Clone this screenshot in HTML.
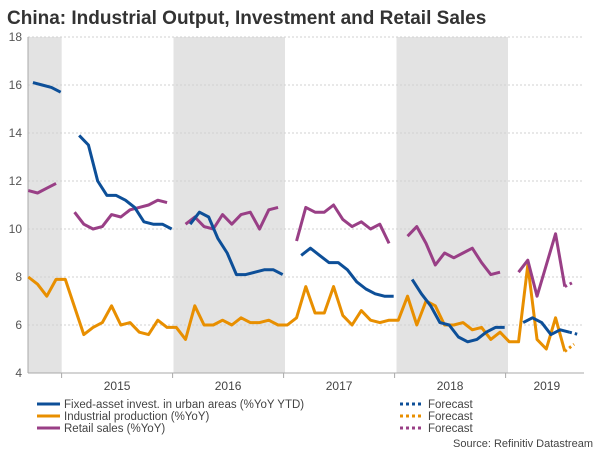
<!DOCTYPE html>
<html><head><meta charset="utf-8">
<style>
body{margin:0;background:#fff;width:600px;height:450px;overflow:hidden;font-family:"Liberation Sans",Arial,sans-serif;}
</style></head>
<body>
<svg id="chart" width="600" height="450" xmlns="http://www.w3.org/2000/svg" font-family="Liberation Sans, Arial, sans-serif">
<text x="7" y="24" font-size="19" font-weight="bold" fill="#333">China: Industrial Output, Investment and Retail Sales</text>
<g id="bands"></g><g id="grid"></g><g id="axes"></g><g id="series"></g>
<g font-size="11.5" fill="#444">
<line x1="37" y1="404" x2="60" y2="404" stroke="#0d4f98" stroke-width="3"/>
<text x="64" y="408">Fixed-asset invest. in urban areas (%YoY YTD)</text>
<line x1="37" y1="416" x2="60" y2="416" stroke="#e88f00" stroke-width="3"/>
<text x="64" y="420">Industrial production (%YoY)</text>
<line x1="37" y1="428" x2="60" y2="428" stroke="#993f86" stroke-width="3"/>
<text x="64" y="432">Retail sales (%YoY)</text>
<line x1="400" y1="404" x2="423" y2="404" stroke="#0d4f98" stroke-width="3" stroke-dasharray="3,3"/>
<text x="428" y="408">Forecast</text>
<line x1="400" y1="416" x2="423" y2="416" stroke="#e88f00" stroke-width="3" stroke-dasharray="3,3"/>
<text x="428" y="420">Forecast</text>
<line x1="400" y1="428" x2="423" y2="428" stroke="#993f86" stroke-width="3" stroke-dasharray="3,3"/>
<text x="428" y="432">Forecast</text>
</g>
<text x="593" y="447" font-size="11" fill="#444" text-anchor="end">Source: Refinitiv Datastream</text>
</svg>
<script>
// index 0 = Sep 2014, monthly
const years = ["2015","2016","2017","2018","2019"];
const yTicks = [4,6,8,10,12,14,16,18];
const fai = [16.1,16.0,15.9,15.7,null,13.9,13.5,12.0,11.4,11.4,11.2,10.9,10.3,10.2,10.2,10.0,null,10.2,10.7,10.5,9.6,9.0,8.1,8.1,8.2,8.3,8.3,8.1,null,8.9,9.2,8.9,8.6,8.6,8.3,7.8,7.5,7.3,7.2,7.2,null,7.9,7.3,6.8,6.1,6.0,5.5,5.3,5.4,5.7,5.9,5.9,null,6.1,6.3,6.1,5.6,5.8,5.7,null];
const faiForecast = [58,5.7,59,5.6];
const ip = [8.0,7.7,7.2,7.9,7.9,null,5.6,5.9,6.1,6.8,6.0,6.1,5.7,5.6,6.2,5.9,5.9,5.4,6.8,6.0,6.0,6.2,6.0,6.3,6.1,6.1,6.2,6.0,6.0,6.3,7.6,6.5,6.5,7.6,6.4,6.0,6.6,6.2,6.1,6.2,6.2,7.2,6.0,7.0,6.8,6.0,6.0,6.1,5.8,5.9,5.4,5.7,5.3,5.3,8.5,5.4,5.0,6.3,4.9,null];
const ipForecast = [58,4.9,59,5.2];
const retail = [11.6,11.5,11.7,11.9,null,10.7,10.2,10.0,10.1,10.6,10.5,10.8,10.9,11.0,11.2,11.1,null,10.2,10.5,10.1,10.0,10.6,10.2,10.6,10.7,10.0,10.8,10.9,null,9.5,10.9,10.7,10.7,11.0,10.4,10.1,10.3,10.0,10.2,9.4,null,9.7,10.1,9.4,8.5,9.0,8.8,9.0,9.2,8.6,8.1,8.2,null,8.2,8.7,7.2,8.5,9.8,7.6,null];
const retailForecast = [58,7.6,59,7.8];

const NS="http://www.w3.org/2000/svg";
const L=28,R=584,T=37,B=373;
const X=k=>28.3+9.25*k;
const Y=v=>B-(v-4)*(B-T)/14;
function mk(tag,attrs,parent){const e=document.createElementNS(NS,tag);for(const a in attrs)e.setAttribute(a,attrs[a]);document.getElementById(parent).appendChild(e);return e;}

const bandsDef=[[L,61.7],[173.5,285],[396.5,508]];
bandsDef.forEach((b,i)=>{const r=mk('rect',{x:b[0],y:T,width:b[1]-b[0],height:B-T,fill:'#e3e3e3'},'bands');

});

yTicks.forEach(v=>{
 if(v>4){const g=mk('line',{x1:L,x2:R,y1:Y(v),y2:Y(v),stroke:'#d0d0d0','stroke-dasharray':'2,2','stroke-width':1},'grid');
 
 }
 const t=mk('text',{x:22,y:Y(v)+4,'font-size':12,fill:'#555','text-anchor':'end'},'axes');t.textContent=v;
 
 
});
const ax=mk('line',{x1:L,x2:R,y1:B,y2:B,stroke:'#aaa'},'axes');


const ay=mk('line',{x1:L,x2:L,y1:T,y2:B,stroke:'#aaa'},'axes');


years.forEach((y,i)=>{
 const k0=3.6+12*i;
 const tk=mk('line',{x1:X(k0),x2:X(k0),y1:B,y2:B+5,stroke:'#aaa'},'axes');
 
 
 const cx=i<4?X(k0+6):(X(k0)+R)/2+2;
 const t=mk('text',{x:cx,y:390,'font-size':12,fill:'#444','text-anchor':'middle'},'axes');t.textContent=y;
 
 
});

function drawSeries(vals,off,color,name,connect){
 let segs=[],cur=[];
 vals.forEach((v,k)=>{ if(v==null){ if(!connect&&cur.length){segs.push(cur);cur=[];} } else cur.push([X(k+off),Y(v)]); });
 if(cur.length)segs.push(cur);
 segs.forEach(s=>{const p=mk('polyline',{points:s.map(q=>q.join(',')).join(' '),fill:'none',stroke:color,'stroke-width':3,'stroke-linejoin':'round'},'series');
 
 });
}
function drawForecast(f,off,color,name){
 const p=mk('line',{x1:X(f[0]+off),y1:Y(f[1]),x2:X(f[2]+off),y2:Y(f[3]),stroke:color,'stroke-width':3,'stroke-dasharray':'2.5,3'},'series');
 
 
}
drawSeries(ip,0,'#e88f00','industrial-production',true);
drawSeries(retail,0,'#993f86','retail-sales',false);
drawSeries(fai,0.5,'#0d4f98','fixed-asset-investment',false);
drawForecast(ipForecast,0,'#e88f00','industrial-production');
drawForecast(retailForecast,0,'#993f86','retail-sales');
drawForecast(faiForecast,0.5,'#0d4f98','fixed-asset-investment');
</script>
</body></html>
